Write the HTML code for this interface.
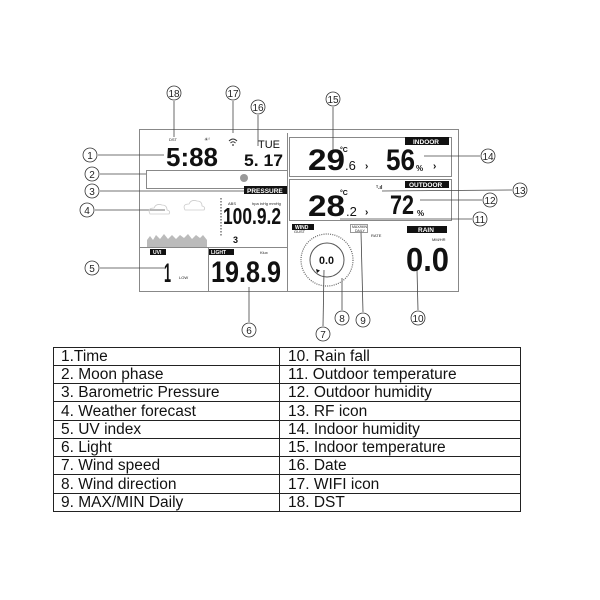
<!DOCTYPE html>
<html><head><style>
html,body{margin:0;padding:0;background:#fff;}
svg{display:block}
.t{font-family:"Liberation Sans",sans-serif;}
.n{font-family:"Liberation Sans",sans-serif;font-size:10px;text-anchor:middle;}
.d{font-family:"Liberation Sans",sans-serif;font-weight:bold;}
</style></head><body>
<svg width="600" height="600" viewBox="0 0 600 600" xmlns="http://www.w3.org/2000/svg">
<g fill="none" stroke="#888" stroke-width="1">
<rect x="139.5" y="129.5" width="319" height="162"/>
<rect x="289.5" y="137.5" width="162" height="39"/>
<rect x="289.5" y="179.5" width="162" height="41"/>
<rect x="146.5" y="170.5" width="141" height="18"/>
<line x1="287.5" y1="133" x2="287.5" y2="170"/>
<line x1="287.5" y1="188" x2="287.5" y2="291"/>
<line x1="139" y1="247.5" x2="287" y2="247.5"/>
<line x1="208.5" y1="247" x2="208.5" y2="291"/>
</g>
<g stroke="#444" stroke-width="0.8" fill="none">
<line x1="98" y1="155" x2="164" y2="155"/>
<line x1="100" y1="174" x2="146" y2="174"/>
<line x1="100" y1="191" x2="244" y2="191"/>
<line x1="95" y1="210" x2="165" y2="210"/>
<line x1="100" y1="268" x2="165" y2="268"/>
<line x1="249" y1="322" x2="249" y2="287"/>
<line x1="174" y1="101" x2="174" y2="137"/>
<line x1="233" y1="101" x2="233" y2="133"/>
<line x1="258" y1="115" x2="258" y2="146"/>
<line x1="333" y1="107" x2="333" y2="150"/>
<line x1="424" y1="156" x2="480" y2="156"/>
<line x1="420" y1="200" x2="482" y2="200"/>
<line x1="382" y1="191" x2="512" y2="190"/>
<line x1="340" y1="219" x2="472" y2="219"/>
<line x1="323" y1="326" x2="324" y2="270"/>
<line x1="342" y1="310" x2="342" y2="278"/>
<line x1="363" y1="312" x2="361" y2="232"/>
<line x1="418" y1="310" x2="417" y2="270"/>
</g>
<g fill="#fff" stroke="#333" stroke-width="0.8">
<circle cx="174" cy="93" r="7"/><circle cx="233" cy="93" r="7"/><circle cx="258" cy="107" r="7"/>
<circle cx="333" cy="99" r="7"/><circle cx="90" cy="155" r="7"/><circle cx="92" cy="174" r="7"/>
<circle cx="92" cy="191" r="7"/><circle cx="87" cy="210" r="7"/><circle cx="92" cy="268" r="7"/>
<circle cx="249" cy="330" r="7"/><circle cx="323" cy="334" r="7"/><circle cx="342" cy="318" r="7"/>
<circle cx="363" cy="320" r="7"/><circle cx="418" cy="318" r="7"/><circle cx="480" cy="219" r="7"/>
<circle cx="490" cy="200" r="7"/><circle cx="520" cy="190" r="7"/><circle cx="488" cy="156" r="7"/>
</g>
<g class="n" fill="#222">
<text x="174" y="97">18</text><text x="233" y="97">17</text><text x="258" y="111">16</text>
<text x="333" y="103">15</text><text x="90" y="159">1</text><text x="92" y="178">2</text>
<text x="92" y="195">3</text><text x="87" y="214">4</text><text x="92" y="272">5</text>
<text x="249" y="334">6</text><text x="323" y="338">7</text><text x="342" y="322">8</text>
<text x="363" y="324">9</text><text x="418" y="322">10</text><text x="480" y="223">11</text>
<text x="490" y="204">12</text><text x="520" y="194">13</text><text x="488" y="160">14</text>
</g>
<g fill="#111">
<rect x="244" y="186" width="43" height="8"/>
<rect x="405" y="137" width="44" height="8"/>
<rect x="405" y="181" width="44" height="7"/>
<rect x="292" y="224" width="22" height="6"/>
<rect x="407" y="226" width="40" height="7"/>
<rect x="150" y="249" width="16" height="6"/>
<rect x="209" y="249" width="25" height="6"/>
</g>
<g class="t" fill="#fff" font-size="6.5" font-weight="bold">
<text x="247" y="193">PRESSURE</text>
<text x="413" y="144">INDOOR</text>
<text x="409" y="187">OUTDOOR</text>
<text x="295" y="229" font-size="5">WIND</text>
<text x="418" y="232">RAIN</text>
<text x="153" y="254" font-size="5">UVI</text>
<text x="211" y="254" font-size="5">LIGHT</text>
</g>
<g class="t" fill="#222" font-size="4">
<text x="169" y="141">DST</text>
<text x="228" y="205">ABS</text>
<text x="252" y="205">hpa inHg mmHg</text>
<text x="179" y="279">LOW</text>
<text x="260" y="254">Klux</text>
<text x="371" y="237">RATE</text>
<text x="432" y="241">MM/HR</text>
<text x="294" y="233">GUST</text>
</g>
<rect x="350.5" y="224.5" width="17" height="8" fill="#fff" stroke="#555" stroke-width="0.6"/>
<text x="352" y="228" class="t" font-size="3.5" fill="#222">MAX/MIN</text>
<text x="355" y="232" class="t" font-size="3.5" fill="#222">DAILY</text>
<g class="d" fill="#111">
<text x="166" y="166" font-size="26" textLength="52" lengthAdjust="spacingAndGlyphs">5:88</text>
<text x="244" y="166" font-size="17" textLength="39" lengthAdjust="spacingAndGlyphs">5. 17</text>
<text x="258" y="148" font-size="11" font-weight="normal">TUE</text>
<text x="308" y="170" font-size="30" textLength="37" lengthAdjust="spacingAndGlyphs">29</text>
<text x="345" y="170" font-size="13" font-weight="normal">.6</text>
<text x="340" y="152" font-size="7">°C</text>
<text x="365" y="169" font-size="10">›</text>
<text x="386" y="170" font-size="30" textLength="29" lengthAdjust="spacingAndGlyphs">56</text>
<text x="416" y="171" font-size="8">%</text>
<text x="433" y="169" font-size="10">›</text>
<text x="308" y="216" font-size="30" textLength="37" lengthAdjust="spacingAndGlyphs">28</text>
<text x="346" y="216" font-size="13" font-weight="normal">.2</text>
<text x="340" y="195" font-size="7">°C</text>
<text x="365" y="215" font-size="10">›</text>
<text x="390" y="214" font-size="27" textLength="24" lengthAdjust="spacingAndGlyphs">72</text>
<text x="417" y="216" font-size="8">%</text>
<text x="376" y="189" font-size="5">ᵀ.ıl</text>
<text x="223" y="224" font-size="23" textLength="58" lengthAdjust="spacingAndGlyphs">100.9.2</text>
<text x="233" y="243" font-size="9">3</text>
<text x="164" y="282" font-size="27" textLength="7" lengthAdjust="spacingAndGlyphs">1</text>
<text x="211" y="282" font-size="30" textLength="70" lengthAdjust="spacingAndGlyphs">19.8.9</text>
<text x="406" y="271" font-size="33" textLength="43" lengthAdjust="spacingAndGlyphs">0.0</text>
<text x="319" y="264" font-size="11" textLength="15" lengthAdjust="spacingAndGlyphs">0.0</text>
</g>
<g stroke="#333" stroke-width="1" stroke-dasharray="1.5,1.5"><line x1="221" y1="198" x2="221" y2="236"/></g>
<path d="M229 141 q4 -4 8 0 M230.5 143 q2.5 -2.5 5 0" stroke="#333" fill="none" stroke-width="1"/>
<circle cx="233" cy="145" r="0.9" fill="#333"/>
<text x="204" y="141" class="t" font-size="5" fill="#333">☀ᶠ</text>
<circle cx="244" cy="178" r="4" fill="#999"/>
<g fill="none" stroke="#ccc" stroke-width="0.8">
<path d="M150 214 q-3 -6 4 -6 q2 -5 8 -3 q5 0 5 5 q4 1 2 4 z"/>
<path d="M185 210 q-3 -6 4 -6 q2 -5 8 -3 q5 0 5 5 q4 1 2 4 z"/>
</g>
<path d="M147 247 L147 240 L150 236 L153 240 L156 235 L160 239 L164 234 L168 239 L172 235 L176 239 L180 235 L184 238 L188 234 L192 239 L196 235 L200 238 L203 235 L207 240 L207 247 Z" fill="#bbb"/>
<circle cx="327" cy="260" r="26" fill="none" stroke="#666" stroke-width="1.2" stroke-dasharray="1,1.2"/>
<circle cx="327" cy="260" r="17" fill="none" stroke="#555" stroke-width="1"/>
<path d="M316 269 l4 1.5 -3 2.5 z" fill="#111"/>
<g stroke="#222" stroke-width="1" fill="none">
<rect x="53.5" y="347.5" width="467" height="164"/>
<line x1="279.5" y1="347" x2="279.5" y2="511"/>
<line x1="53" y1="365.5" x2="520" y2="365.5"/>
<line x1="53" y1="383.5" x2="520" y2="383.5"/>
<line x1="53" y1="401.5" x2="520" y2="401.5"/>
<line x1="53" y1="420.5" x2="520" y2="420.5"/>
<line x1="53" y1="438.5" x2="520" y2="438.5"/>
<line x1="53" y1="456.5" x2="520" y2="456.5"/>
<line x1="53" y1="474.5" x2="520" y2="474.5"/>
<line x1="53" y1="493.5" x2="520" y2="493.5"/>
</g>
<g class="t" font-size="15.5" fill="#111">
<text x="61" y="361">1.Time</text><text x="288" y="361">10. Rain fall</text>
<text x="61" y="379">2. Moon phase</text><text x="288" y="379">11. Outdoor temperature</text>
<text x="61" y="397">3. Barometric Pressure</text><text x="288" y="397">12. Outdoor humidity</text>
<text x="61" y="416">4. Weather forecast</text><text x="288" y="416">13. RF icon</text>
<text x="61" y="434">5. UV index</text><text x="288" y="434">14. Indoor humidity</text>
<text x="61" y="452">6. Light</text><text x="288" y="452">15. Indoor temperature</text>
<text x="61" y="470">7. Wind speed</text><text x="288" y="470">16. Date</text>
<text x="61" y="489">8. Wind direction</text><text x="288" y="489">17. WIFI icon</text>
<text x="61" y="507">9. MAX/MIN Daily</text><text x="288" y="507">18. DST</text>
</g>
</svg>
</body></html>
